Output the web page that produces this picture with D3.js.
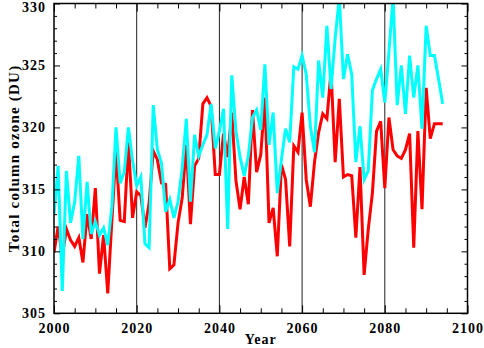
<!DOCTYPE html>
<html>
<head>
<meta charset="utf-8">
<script src="https://cdn.jsdelivr.net/npm/d3@7"></script>
<style>
  html, body { margin: 0; padding: 0; background: #fff; }
  svg { display: block; }
  text { font-family: "Liberation Serif", "Times New Roman", serif; font-weight: bold; fill: #000; }
</style>
</head>
<body>
<svg id="chart" width="484" height="348"></svg>
<script>
// ---- data ----
const startYear = 2000;
const redValues = [
  309.9, 312.0, 309.6, 311.8, 310.9, 310.4, 311.1, 309.1, 313.0, 311.0,
  315.1, 308.2, 311.3, 306.6, 312.5, 318.1, 312.5, 312.4, 318.8, 312.7,
  314.8, 314.5, 311.9, 313.9, 318.1, 317.4, 315.5, 315.4, 308.6, 308.9,
  312.3, 314.3, 318.6, 312.2, 316.9, 317.5, 321.9, 322.4, 321.7, 316.2,
  316.2, 319.5, 317.6, 321.2, 315.7, 313.4, 316.0, 313.8, 321.4, 316.4,
  317.8, 322.4, 312.3, 313.5, 309.6, 317.0, 315.8, 310.4, 318.5, 318.0,
  321.2, 315.8, 313.6, 317.2, 319.6, 321.1, 320.7, 324.5, 317.2, 322.3,
  316.0, 316.2, 316.1, 311.1, 316.8, 308.1, 311.8, 314.7, 319.7, 320.5,
  315.1, 320.8, 318.2, 317.7, 317.5, 318.2, 319.5, 310.3, 319.7, 313.4,
  323.2, 319.1, 320.3, 320.3, 320.3
];
const cyanValues = [
  313.0, 316.9, 306.8, 316.5, 312.3, 314.0, 317.7, 311.0, 315.6, 311.4,
  312.4, 311.3, 311.9, 310.5, 313.6, 320.0, 315.5, 316.4, 320.0, 317.3,
  315.3, 316.0, 310.6, 310.3, 321.8, 318.2, 317.1, 313.2, 314.2, 312.7,
  314.0, 316.7, 320.7, 314.0, 319.4, 317.7, 318.6, 319.4, 321.9, 318.3,
  319.7, 321.5, 311.8, 324.2, 319.7, 317.6, 316.1, 317.7, 320.8, 321.4,
  319.8, 325.1, 318.6, 321.2, 314.7, 317.4, 319.9, 318.8, 324.9, 324.7,
  325.8, 324.3, 320.1, 318.0, 325.4, 322.4, 328.2, 323.1, 327.2, 330.5,
  323.9, 325.9, 324.3, 317.2, 320.1, 315.8, 316.5, 323.0, 323.9, 324.7,
  322.0, 326.1, 330.5, 321.8, 325.0, 321.1, 325.8, 322.4, 325.0, 319.9,
  328.2, 325.8, 325.8, 323.9, 321.9
];
const xTickLabels = [2000, 2020, 2040, 2060, 2080, 2100];
const yTickLabels = [305, 310, 315, 320, 325, 330];
const dividerYears = [2020, 2040, 2060, 2080];
const xLabel = "Year";
const yLabel = "Total column ozone (DU)";

// ---- layout ----
const L = 54, R = 467.5, T = 3.5, B = 313.3;
const svg = d3.select("#chart");
const x = d3.scaleLinear().domain([2000, 2100]).range([L, R]);
const y = d3.scaleLinear().domain([305, 330]).range([B, T]);

const redData = redValues.map((v, i) => ({ year: startYear + i, v }));
const cyanData = cyanValues.map((v, i) => ({ year: startYear + i, v }));

svg.append("defs").append("clipPath").attr("id", "clip")
  .append("rect").attr("x", L).attr("y", T).attr("width", R - L).attr("height", B - T);

// divider lines
svg.append("g").selectAll("line").data(dividerYears).join("line")
  .attr("x1", d => x(d)).attr("x2", d => x(d))
  .attr("y1", T).attr("y2", B)
  .attr("stroke", "#222").attr("stroke-width", 1);

const line = d3.line().x(d => x(d.year)).y(d => y(d.v));
const plot = svg.append("g").attr("clip-path", "url(#clip)");
plot.append("path").datum(redData).attr("d", line)
  .attr("fill", "none").attr("stroke", "#ff0000").attr("stroke-width", 3).attr("stroke-linejoin", "miter");
plot.append("path").datum(cyanData).attr("d", line)
  .attr("fill", "none").attr("stroke", "#00ffff").attr("stroke-width", 3).attr("stroke-linejoin", "miter");

// ticks (inward) using axes
const xMinor = d3.range(2000, 2101, 5);
const yMinor = d3.range(305, 331, 1);
function styleAxis(g) {
  g.select(".domain").remove();
  g.selectAll(".tick line").attr("stroke", "#000").attr("stroke-width", 1);
}
const fmt = d => (yTickLabels.includes(d) ? d : "");
const fmtx = d => (xTickLabels.includes(d) ? d : "");

// bottom
const bottomAxis = svg.append("g").attr("transform", `translate(0,${B})`)
  .call(d3.axisBottom(x).tickValues(xMinor).tickFormat(fmtx)
    .tickSizeInner(-5).tickSizeOuter(0).tickPadding(10));
styleAxis(bottomAxis);
bottomAxis.selectAll(".tick line").attr("y2", d => xTickLabels.includes(d) ? -8 : -5);
bottomAxis.selectAll(".tick text").attr("font-size", 14).attr("letter-spacing", 1)
  .style("font-family", "'Liberation Serif', serif").style("font-weight", "bold");

// top
const topAxis = svg.append("g").attr("transform", `translate(0,${T})`)
  .call(d3.axisTop(x).tickValues(xMinor).tickFormat("").tickSizeInner(-5).tickSizeOuter(0));
styleAxis(topAxis);
topAxis.selectAll(".tick line").attr("y2", d => xTickLabels.includes(d) ? 8 : 5);

// left
const leftAxis = svg.append("g").attr("transform", `translate(${L},0)`)
  .call(d3.axisLeft(y).tickValues(yMinor).tickFormat(fmt)
    .tickSizeInner(-3).tickSizeOuter(0).tickPadding(8));
styleAxis(leftAxis);
leftAxis.selectAll(".tick line").attr("x2", d => yTickLabels.includes(d) ? 6 : 3);
leftAxis.selectAll(".tick text").attr("font-size", 14).attr("letter-spacing", 1)
  .style("font-family", "'Liberation Serif', serif").style("font-weight", "bold")
  .attr("dy", d => d === 330 ? "0.82em" : "0.32em")
  .attr("y", d => d === 330 ? -3 : 0);

// right
const rightAxis = svg.append("g").attr("transform", `translate(${R},0)`)
  .call(d3.axisRight(y).tickValues(yMinor).tickFormat("").tickSizeInner(-3).tickSizeOuter(0));
styleAxis(rightAxis);
rightAxis.selectAll(".tick line").attr("x2", d => yTickLabels.includes(d) ? -6 : -3);

// frame
svg.append("rect").attr("x", L).attr("y", T).attr("width", R - L).attr("height", B - T)
  .attr("fill", "none").attr("stroke", "#000").attr("stroke-width", 1.5);

// labels
svg.append("text").attr("x", (L + R) / 2).attr("y", 344).attr("text-anchor", "middle")
  .attr("font-size", 14).attr("letter-spacing", 1).text(xLabel);
svg.append("text").attr("transform", `translate(19,${(T + B) / 2}) rotate(-90)`)
  .attr("text-anchor", "middle").attr("font-size", 15).attr("letter-spacing", 1.2).text(yLabel);
</script>
</body>
</html>
